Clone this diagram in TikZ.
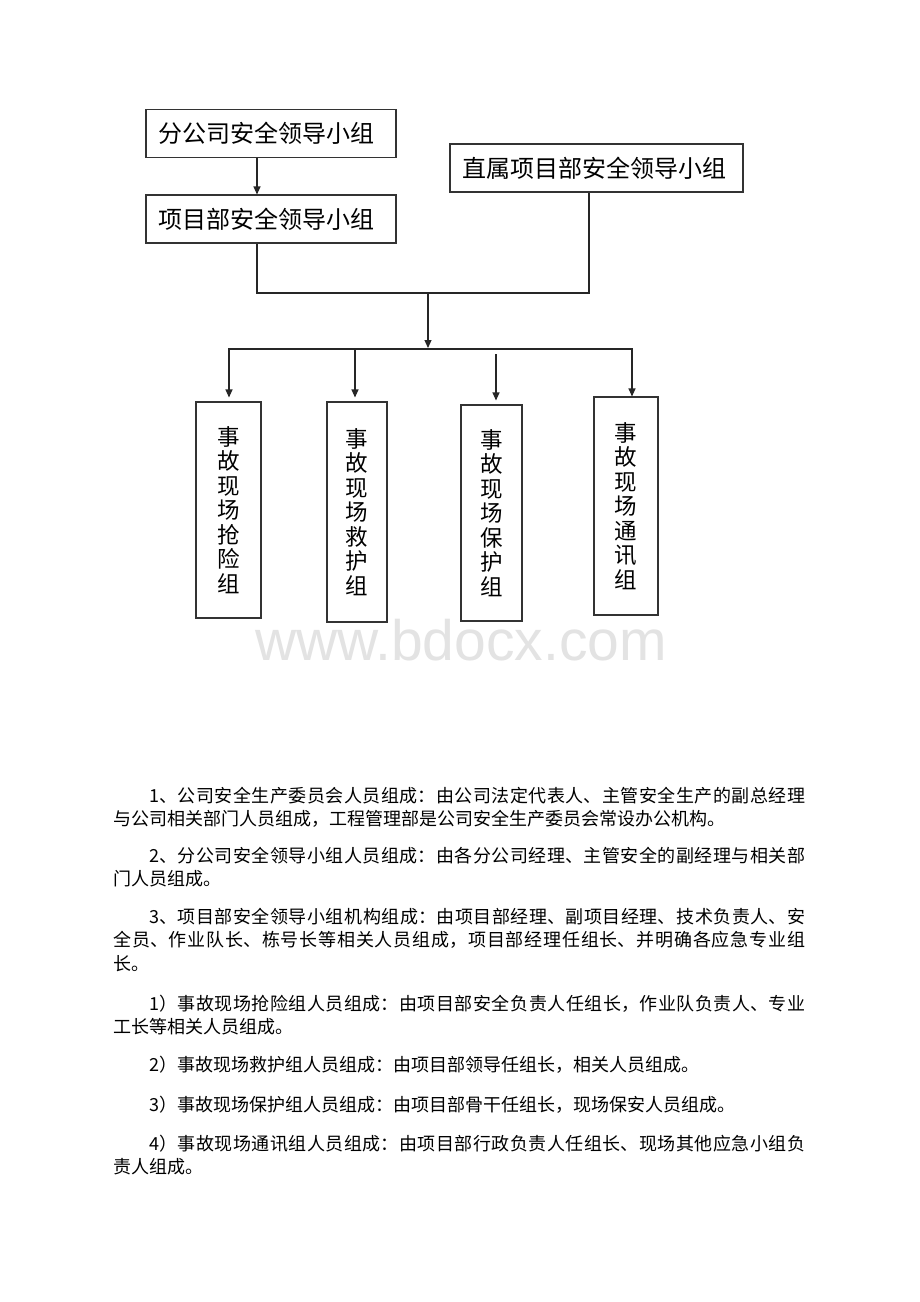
\documentclass[tikz,border=0pt]{standalone}
\usepackage{fontspec}
\usetikzlibrary{arrows.meta,positioning}
\newfontfamily\hei{Noto Sans CJK SC}
\newfontfamily\wmfont{Liberation Sans}
\XeTeXlinebreaklocale "zh"
\XeTeXlinebreakskip=0pt plus 2pt minus 0.3pt

\begin{document}
\begin{tikzpicture}[x=1pt, y=-1pt,
  grp/.style={draw=black!80, line width=1.1pt, inner xsep=12pt, align=left,
    minimum height=48pt, font=\hei\fontsize{24}{28}\selectfont},
  team/.style={draw=black!80, line width=1.1pt, align=center,
    font=\hei\fontsize{22.5}{24.5}\selectfont, execute at begin node={\rule{0pt}{33pt}}},
  wire/.style={draw=black!85, line width=1.1pt},
  arr/.style={wire, -{Triangle[length=8pt,width=7pt]}, shorten >=4pt},
  para/.style={anchor=base west, inner sep=0pt, text width=692pt, align=justify,
    font=\hei\fontsize{18}{23.5}\selectfont}]
\path[use as bounding box, fill=white] (0,0) rectangle (920,1302);
\node[anchor=base, text=black!11, font=\wmfont\fontsize{57}{60}\selectfont] (mark) at (461,660) {www.bdocx.com};

% leading groups
\node[grp, text width=226pt] (gsbox) at (271,133.5) {分公司安全领导小组};
\node[grp, text width=226pt] (xmbox) at (271,219) {项目部安全领导小组};
\node[grp, text width=269pt] (zsbox) at (596.5,168) {直属项目部安全领导小组};

% site teams
\node[team, minimum width=65pt, minimum height=216pt] (qxz) at (228.5,510) {事\\故\\现\\场\\抢\\险\\组};
\node[team, minimum width=60pt, minimum height=220pt] (jhz) at (357,512) {事\\故\\现\\场\\救\\护\\组};
\node[team, minimum width=61pt, minimum height=216pt] (bhz) at (491.5,513) {事\\故\\现\\场\\保\\护\\组};
\node[team, minimum width=64pt, minimum height=218pt] (txz) at (626,506) {事\\故\\现\\场\\通\\讯\\组};

\coordinate (join) at (428,293);
\coordinate (split) at (428,349);
\draw[arr, shorten >=0pt] ([xshift=-14pt]gsbox.south) -- ([xshift=-14pt]xmbox.north);
\draw[wire] ([xshift=-14pt]xmbox.south) |- (join) -| ([xshift=-7.5pt]zsbox.south);
\draw[arr, shorten >=1pt] (join) -- (split);
\draw[arr] (split) -| ([xshift=.5pt]qxz.north);
\draw[arr, shorten >=0pt] (split) -| ([xshift=6pt]txz.north);
\draw[arr] ([xshift=-2pt]jhz.north |- split) -- ([xshift=-2pt]jhz.north);
\draw[arr] ([xshift=4.5pt,yshift=50pt]bhz.north) -- ([xshift=4.5pt]bhz.north);

% notes
\node[para] (p1) at (113,802) {\hspace*{36pt}1、公司安全生产委员会人员组成：由公司法定代表人、主管安全生产的副总经理\linebreak 与公司相关部门人员组成，工程管理部是公司安全生产委员会常设办公机构。};
\node[para] (p2) at (113,862) {\hspace*{36pt}2、分公司安全领导小组人员组成：由各分公司经理、主管安全的副经理与相关部\linebreak 门人员组成。};
\node[para] (p3) at (113,923) {\hspace*{36pt}3、项目部安全领导小组机构组成：由项目部经理、副项目经理、技术负责人、安\linebreak 全员、作业队长、栋号长等相关人员组成，项目部经理任组长、并明确各应急专业组\linebreak 长。};
\node[para] (p4) at (113,1010) {\hspace*{36pt}1）事故现场抢险组人员组成：由项目部安全负责人任组长，作业队负责人、专业\linebreak 工长等相关人员组成。};
\node[para] (p5) at (113,1071) {\hspace*{36pt}2）事故现场救护组人员组成：由项目部领导任组长，相关人员组成。};
\node[para] (p6) at (113,1111) {\hspace*{36pt}3）事故现场保护组人员组成：由项目部骨干任组长，现场保安人员组成。};
\node[para] (p7) at (113,1150) {\hspace*{36pt}4）事故现场通讯组人员组成：由项目部行政负责人任组长、现场其他应急小组负\linebreak 责人组成。};
\end{tikzpicture}
\end{document}
